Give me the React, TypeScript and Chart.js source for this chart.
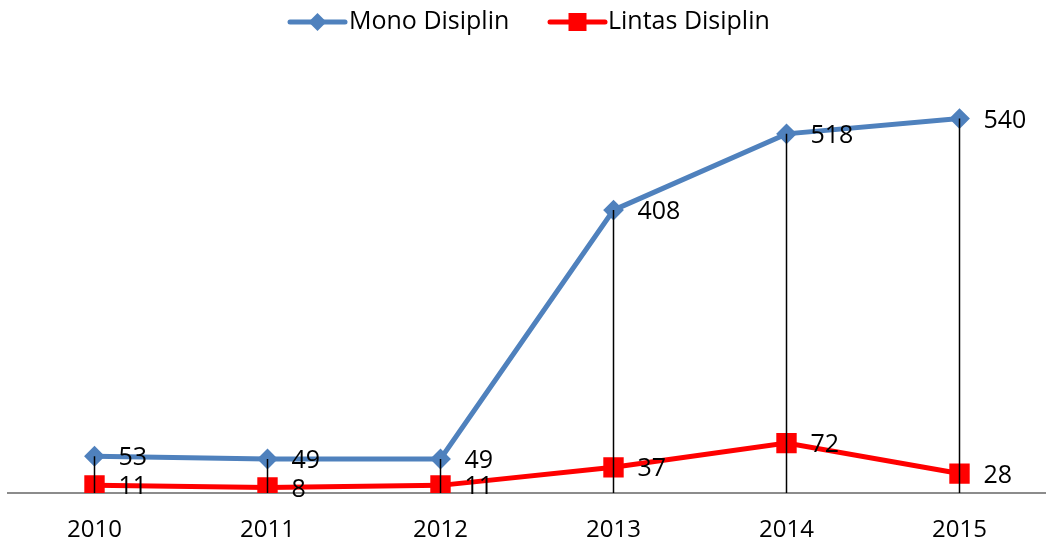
import React, { useEffect, useRef } from "react";
import { Chart, registerables } from "chart.js";

Chart.register(...registerables);

const categories = ["2010", "2011", "2012", "2013", "2014", "2015"];
const monoValues = [53, 49, 49, 408, 518, 540];
const lintasValues = [11, 8, 11, 37, 72, 28];
const seriesNames = ["Mono Disiplin", "Lintas Disiplin"];

const BLUE = "#4f81bd";
const RED = "#ff0000";
const FONT = "'Open Sans', sans-serif";

const dropLinesPlugin = {
  id: "dropLines",
  afterDatasetsDraw(chart: any) {
    const ctx = chart.ctx;
    const yScale = chart.scales.y;
    const m0 = chart.getDatasetMeta(0);
    const m1 = chart.getDatasetMeta(1);
    const base = yScale.getPixelForValue(0);
    ctx.save();
    ctx.strokeStyle = "#000000";
    ctx.lineWidth = 1.5;
    m0.data.forEach((pt: any, i: number) => {
      const top = Math.min(pt.y, m1.data[i].y);
      ctx.beginPath();
      ctx.moveTo(pt.x, top);
      ctx.lineTo(pt.x, base);
      ctx.stroke();
    });
    ctx.fillStyle = "#000000";
    ctx.font = `25px ${FONT}`;
    ctx.textAlign = "left";
    ctx.textBaseline = "middle";
    [0, 1].forEach((di) => {
      const meta = chart.getDatasetMeta(di);
      const vals = chart.data.datasets[di].data;
      meta.data.forEach((pt: any, i: number) => {
        ctx.fillText(String(vals[i]), pt.x + 24, pt.y + 2);
      });
    });
    ctx.restore();
  },
  afterDraw(chart: any) {
    const ctx = chart.ctx;
    ctx.save();
    const y = 22;
    const items = [
      { x0: 290, x1: 345, color: BLUE, shape: "diamond", text: seriesNames[0], tx: 349 },
      { x0: 550, x1: 605, color: RED, shape: "square", text: seriesNames[1], tx: 608 },
    ];
    items.forEach((it) => {
      ctx.strokeStyle = it.color;
      ctx.lineWidth = 5;
      ctx.lineCap = "round";
      ctx.beginPath();
      ctx.moveTo(it.x0, y);
      ctx.lineTo(it.x1, y);
      ctx.stroke();
      const cx = (it.x0 + it.x1) / 2;
      ctx.fillStyle = it.color;
      ctx.beginPath();
      if (it.shape === "diamond") {
        ctx.moveTo(cx, y - 9);
        ctx.lineTo(cx + 9, y);
        ctx.lineTo(cx, y + 9);
        ctx.lineTo(cx - 9, y);
        ctx.closePath();
      } else {
        ctx.rect(cx - 9, y - 9, 18, 18);
      }
      ctx.fill();
      ctx.fillStyle = "#000000";
      ctx.font = `25px ${FONT}`;
      ctx.textAlign = "left";
      ctx.textBaseline = "middle";
      ctx.fillText(it.text, it.tx, y);
    });
    ctx.restore();
  },
};

export default function App() {
  const canvasRef = useRef<HTMLCanvasElement | null>(null);

  useEffect(() => {
    if (!canvasRef.current) return;
    const chart = new Chart(canvasRef.current, {
      type: "line",
      data: {
        labels: categories,
        datasets: [
          {
            label: seriesNames[0],
            data: monoValues,
            borderColor: BLUE,
            backgroundColor: BLUE,
            borderWidth: 5,
            pointStyle: "rectRot",
            pointRadius: 9,
            pointBorderWidth: 2,
            pointBackgroundColor: BLUE,
            pointBorderColor: BLUE,
            tension: 0,
          },
          {
            label: seriesNames[1],
            data: lintasValues,
            borderColor: RED,
            backgroundColor: RED,
            borderWidth: 5,
            pointStyle: "rect",
            pointRadius: 13,
            pointBorderWidth: 2,
            pointBackgroundColor: RED,
            pointBorderColor: RED,
            tension: 0,
          },
        ],
      },
      options: {
        animation: false,
        responsive: false,
        devicePixelRatio: 1,
        layout: { autoPadding: false, padding: { left: 8, right: 0, top: 77, bottom: 2 } },
        plugins: {
          legend: { display: false },
          tooltip: { enabled: false },
        },
        scales: {
          x: {
            offset: true,
            grid: { display: false, drawTicks: false, tickLength: 0 },
            border: { display: true, color: "#8c8c8c", width: 2 },
            ticks: {
              color: "#000000",
              font: { family: FONT, size: 24 },
              padding: 23,
              maxRotation: 0,
            },
            afterFit(scale: any) {
              scale.height = 51;
            },
          },
          y: {
            display: false,
            min: 0,
            max: 600,
          },
        },
      },
      plugins: [dropLinesPlugin],
    });
    return () => chart.destroy();
  }, []);

  return (
    <div style={{ position: "absolute", left: 0, top: 0, width: 1046, height: 546, background: "#ffffff" }}>
      <canvas ref={canvasRef} width={1046} height={546} style={{ display: "block", width: 1046, height: 546 }} />
    </div>
  );
}
